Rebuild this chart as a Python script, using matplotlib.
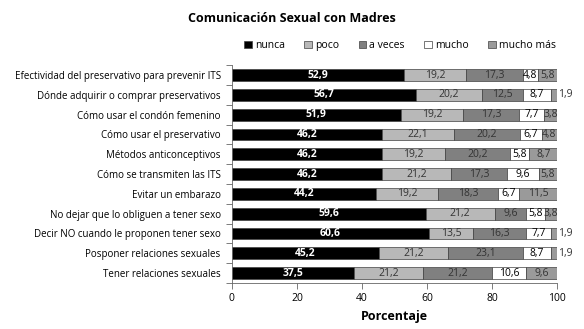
import matplotlib
matplotlib.use('Agg')
from matplotlib import pyplot as plt
from matplotlib.patches import Patch
import numpy as np

plt.rcParams['font.family'] = ['Open Sans', 'DejaVu Sans']

temas = ['Efectividad del preservativo para prevenir ITS',
         'Dónde adquirir o comprar preservativos',
         'Cómo usar el condón femenino',
         'Cómo usar el preservativo',
         'Métodos anticonceptivos',
         'Cómo se transmiten las ITS',
         'Evitar un embarazo',
         'No dejar que lo obliguen a tener sexo',
         'Decir NO cuando le proponen tener sexo',
         'Posponer relaciones sexuales',
         'Tener relaciones sexuales']

series = ['nunca', 'poco', 'a veces', 'mucho', 'mucho más']

nunca = [52.9, 56.7, 51.9, 46.2, 46.2, 46.2, 44.2, 59.6, 60.6, 45.2, 37.5]
poco = [19.2, 20.2, 19.2, 22.1, 19.2, 21.2, 19.2, 21.2, 13.5, 21.2, 21.2]
a_veces = [17.3, 12.5, 17.3, 20.2, 20.2, 17.3, 18.3, 9.6, 16.3, 23.1, 21.2]
mucho = [4.8, 8.7, 7.7, 6.7, 5.8, 9.6, 6.7, 5.8, 7.7, 8.7, 10.6]
mucho_mas = [5.8, 1.9, 3.8, 4.8, 8.7, 5.8, 11.5, 3.8, 1.9, 1.9, 9.6]

colores = ['#000000', '#b8b8b8', '#808080', '#ffffff', '#9a9a9a']
texto = ['white', '#333333', '#333333', 'black', '#333333']


def etiqueta(v):
    return f'{v:.1f}'.replace('.', ',')


fig = plt.figure(figsize=(5.84, 3.29), dpi=100)
ax = fig.add_axes([0.397, 0.140, 0.557, 0.662])

y = np.arange(len(temas))
left = np.zeros(len(temas))
for nombre, vals, col, tc in zip(series, [nunca, poco, a_veces, mucho, mucho_mas], colores, texto):
    vals = np.array(vals)
    ax.barh(y, vals, left=left, height=0.6, color=col, edgecolor='#404040', linewidth=0.5, label=nombre)
    for yi, l, v in zip(y, left, vals):
        if v < 3:
            ax.text(l + v + 0.3, yi, etiqueta(v), ha='left', va='center', fontsize=7.5, color='#333333')
        else:
            ax.text(l + v / 2, yi, etiqueta(v), ha='center', va='center', fontsize=7.5, color=tc,
                    fontweight='bold' if tc == 'white' else 'normal')
    left += vals

ax.set_ylim(len(temas) - 0.5, -0.5)
ax.set_xlim(0, 100)
ax.set_yticks(y)
ax.set_yticklabels(temas, fontsize=7)
ax.set_yticks(np.arange(len(temas) + 1) - 0.5, minor=True)
ax.tick_params(axis='y', which='major', length=0, pad=8)
ax.tick_params(axis='y', which='minor', length=4, width=0.6, color='#666666')
ax.set_xticks([0, 20, 40, 60, 80, 100])
ax.tick_params(axis='x', labelsize=7.5, length=4, width=0.6, color='#666666')
for s in ['top', 'right']:
    ax.spines[s].set_visible(False)
for s in ['left', 'bottom']:
    ax.spines[s].set_color('#666666')
    ax.spines[s].set_linewidth(0.6)

ax.set_xlabel('Porcentaje', fontsize=9, fontweight='bold')
fig.text(0.5, 0.945, 'Comunicación Sexual con Madres', ha='center', va='center', fontsize=9, fontweight='bold')

handles = [Patch(facecolor=c, edgecolor='#404040', linewidth=0.5) for c in colores]
fig.legend(handles, series, loc='center', bbox_to_anchor=(0.685, 0.862), ncol=5, frameon=False,
           fontsize=7.5, handlelength=0.7, handleheight=0.7, handletextpad=0.3, columnspacing=1.9)

plt.savefig('out.png', dpi=100)
